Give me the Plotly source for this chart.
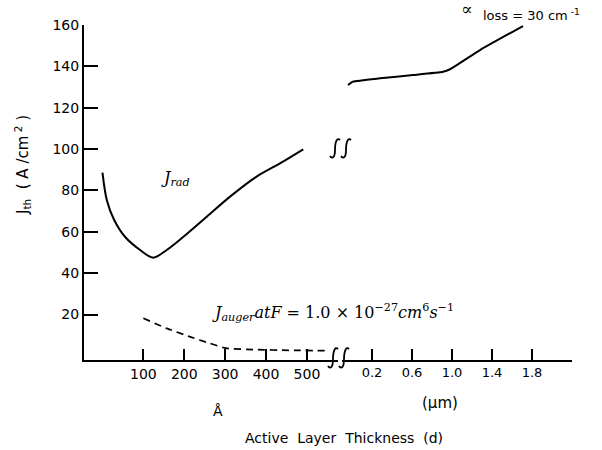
import plotly.graph_objects as go

# ---- data ----
rad_d_A = [0, 10.5, 28.6, 55, 92, 124, 157, 198, 255, 312, 377, 434, 491]
rad_J_A = [88.6, 75.4, 65.7, 57.6, 51.2, 47.5, 51.2, 57.6, 67.3, 77.0, 86.7, 93.1, 99.9]

rad_d_um = [-0.04, 0.01, 0.28, 0.61, 0.91, 0.98, 1.28, 1.71]
rad_J_um = [131.0, 132.6, 134.2, 135.8, 137.4, 138.6, 147.9, 159.5]

aug_d_A = [100, 157, 213, 262, 302, 375, 456, 553]
aug_J_A = [18.2, 13.3, 9.3, 6.1, 3.7, 3.0, 2.7, 2.5]

y_ticks = [20, 40, 60, 80, 100, 120, 140, 160]
xA_ticks = [100, 200, 300, 400, 500]
xum_ticks = [0.2, 0.6, 1.0, 1.4, 1.8, 2.2]
xum_labels = ["0.2", "0.6", "1.0", "1.4", "1.8", ""]

SANS = "DejaVu Sans"
SERIF = "DejaVu Serif"

fig = go.Figure()
fig.add_trace(go.Scatter(x=rad_d_A, y=rad_J_A, mode="lines", xaxis="x", yaxis="y",
                         line=dict(color="black", width=2, shape="spline", smoothing=0.9),
                         showlegend=False, hoverinfo="skip"))
fig.add_trace(go.Scatter(x=aug_d_A, y=aug_J_A, mode="lines", xaxis="x", yaxis="y",
                         line=dict(color="black", width=1.7, dash="7px,5px", shape="spline", smoothing=0.5),
                         showlegend=False, hoverinfo="skip"))
fig.add_trace(go.Scatter(x=rad_d_um, y=rad_J_um, mode="lines", xaxis="x2", yaxis="y",
                         line=dict(color="black", width=2, shape="spline", smoothing=0.4),
                         showlegend=False, hoverinfo="skip"))

axis_common = dict(showgrid=False, zeroline=False, showline=True, linecolor="black",
                   ticks="inside", tickcolor="black", mirror=False)

fig.update_layout(
    width=602, height=450,
    margin=dict(l=84, r=30, t=25, b=90),
    paper_bgcolor="white", plot_bgcolor="white",
    font=dict(family=SANS, color="black"),
    xaxis=dict(axis_common, domain=[0, 0.5205], range=[-45.2, 576], anchor="y",
               tickvals=xA_ticks, ticktext=[str(v) for v in xA_ticks],
               ticklen=11, tickwidth=1.5, linewidth=1.5,
               tickfont=dict(size=14, family=SANS)),
    xaxis2=dict(axis_common, domain=[0.5287, 1], range=[-0.10, 2.2], anchor="y",
                tickvals=xum_ticks, ticktext=xum_labels,
                ticklen=11, tickwidth=1.5, linewidth=1.5,
                tickfont=dict(size=13, family=SANS)),
    yaxis=dict(axis_common, range=[-2.0, 160], anchor="x",
               tickvals=y_ticks, ticktext=[str(v) for v in y_ticks],
               ticklen=14, tickwidth=2, linewidth=2,
               tickfont=dict(size=14, family=SANS)),
)

def px(x): return (x - 84) / 488
def py(y): return (360 - y) / 335

ann = []
def add(text, x, y, size, family=SANS, angle=0):
    ann.append(dict(text=text, x=px(x), y=py(y), xref="paper", yref="paper",
                    xanchor="center", yanchor="middle", showarrow=False,
                    textangle=angle, font=dict(size=size, family=family, color="black")))

add("<i>J<sub>rad</sub></i>", 175, 178, 16, SERIF)
add("<i>J<sub>auger</sub>atF</i> = 1.0 × 10<sup>−27</sup><i>cm</i><sup>6</sup><i>s</i><sup>−1</sup>",
    333, 312, 16, SERIF)
add("∝", 467, 9, 17, SERIF)
add("loss = 30 cm<sup> -1</sup>", 531, 15, 13)
add("Å", 218, 411, 14)
add("(µm)", 440, 403, 15)
add("Active  Layer  Thickness  (d)", 344, 438, 14)
add("J<sub>th</sub>  ( A /cm<sup> 2</sup> )", 22, 165, 15, angle=-90)
fig.update_layout(annotations=ann)

# break squiggles (decoration)
def squiggle(x0, y0, h):
    p = [(x0, y0 - 0.1 * h), (x0 + 2, y0 + 0.05 * h), (x0 + 5, y0), (x0 + 5, y0 - 0.4 * h),
         (x0 + 5, y0 - 0.8 * h), (x0 + 7, y0 - 1.05 * h), (x0 + 10, y0 - 0.9 * h)]
    s = "M {},{} C {},{} {},{} {},{} C {},{} {},{} {},{}".format(
        *[v for pt in p for v in (px(pt[0]), py(pt[1]))])
    return dict(type="path", path=s, xref="paper", yref="paper",
                line=dict(color="black", width=1.8))

shapes = [squiggle(330, 158, 20), squiggle(341, 158, 20),
          squiggle(328, 368, 21), squiggle(339, 368, 21)]
fig.update_layout(shapes=shapes)

fig.write_html("out.html")
